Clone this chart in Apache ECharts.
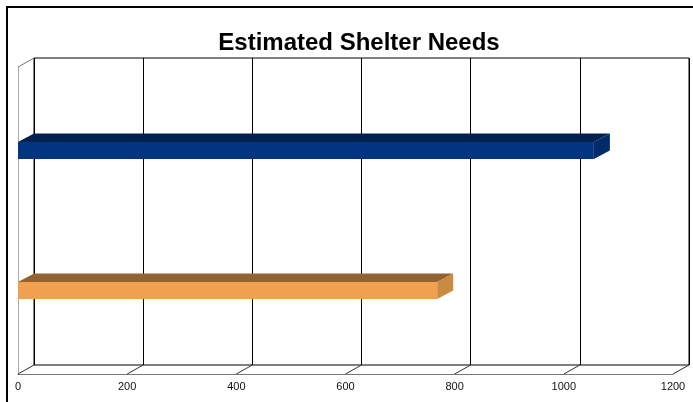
<!DOCTYPE html>
<html>
<head>
<meta charset="utf-8">
<script src="https://cdn.jsdelivr.net/npm/echarts@6/dist/echarts.min.js"></script>
<style>html,body{margin:0;padding:0;background:#fff}#c{width:693px;height:402px}</style>
</head>
<body>
<div id="c"></div>
<script>
const titleText = 'Estimated Shelter Needs';
const categories = ['Series 2', 'Series 1'];
const values = [768, 1055];
const tickValues = [0, 200, 400, 600, 800, 1000, 1200];
const frontColors = ['#F0A04F', '#01357F'];
const topColors = ['#93632F', '#00214F'];
const sideColors = ['#C98A42', '#012A68'];

const DX = 16, DY = -9;
const chart = echarts.init(document.getElementById('c'), null, {renderer: 'canvas'});

const barData = values.map((v, i) => [v, i]);

const option = {
  animation: false,
  backgroundColor: '#fff',
  title: {
    text: titleText, left: 354, textAlign: 'center', top: 26,
    textStyle: {fontFamily: 'Liberation Sans, Arial, sans-serif', fontWeight: 'bold', fontSize: 24, color: '#000'}
  },
  graphic: [{
    type: 'polyline', shape: {points: [[7, 410], [7, 7], [700, 7]]},
    style: {stroke: '#000', lineWidth: 2, fill: null}, z: 100
  }],
  grid: [
    {left: 34, top: 58, width: 655, height: 307, show: true, borderColor: '#000', borderWidth: 1, backgroundColor: 'transparent'},
    {left: 18, top: 67, width: 655, height: 307, show: false},
    {left: 18, top: 80.5, width: 655, height: 280, show: false}
  ],
  xAxis: [
    {gridIndex: 0, type: 'value', min: 0, max: 1200, interval: 200,
     axisLine: {show: false}, axisTick: {show: false}, axisLabel: {show: false},
     splitLine: {show: true, lineStyle: {color: '#000', width: 1}}},
    {gridIndex: 1, type: 'value', min: 0, max: 1200, interval: 200,
     axisLine: {show: true, lineStyle: {color: '#777', width: 1}}, axisTick: {show: false},
     axisLabel: {show: true, margin: 7, fontSize: 11, color: '#111', fontFamily: 'Liberation Sans, Arial, sans-serif',
       formatter: function (v) { return String(v); }},
     splitLine: {show: false}},
    {gridIndex: 2, type: 'value', min: 0, max: 1200, interval: 200, show: false}
  ],
  yAxis: [
    {gridIndex: 0, type: 'value', min: 0, max: 1, show: false, splitLine: {show: false}},
    {gridIndex: 1, type: 'value', min: 0, max: 1, splitLine: {show: false},
     axisLine: {show: true, lineStyle: {color: '#aaa', width: 1}}, axisTick: {show: false}, axisLabel: {show: false}},
    {gridIndex: 2, type: 'category', data: categories, show: false}
  ],
  series: [
    {
      type: 'custom', xAxisIndex: 1, yAxisIndex: 1, silent: true,
      data: tickValues.map(v => [v, 0]),
      encode: {x: 0, y: 1},
      renderItem: function (params, api) {
        const p = api.coord([api.value(0), 0]);
        const children = [{type: 'line', shape: {x1: p[0], y1: p[1], x2: p[0] + DX, y2: p[1] + DY},
          style: {stroke: '#333', lineWidth: 1}}];
        if (params.dataIndex === 0) {
          const t = api.coord([0, 1]);
          children.push({type: 'line', shape: {x1: t[0], y1: t[1], x2: t[0] + DX, y2: t[1] + DY},
            style: {stroke: '#777', lineWidth: 1}});
        }
        return {type: 'group', children: children};
      }
    },
    {
      type: 'custom', xAxisIndex: 2, yAxisIndex: 2, silent: true,
      data: barData,
      encode: {x: 0, y: 1},
      renderItem: function (params, api) {
        const v = api.value(0), c = api.value(1);
        const p0 = api.coord([0, c]);
        const p1 = api.coord([v, c]);
        const h = 17, dx = 16, dy = -8.5;
        const y0 = p0[1] - h / 2, y1 = p0[1] + h / 2;
        const x0 = p0[0], x1 = p1[0];
        const i = params.dataIndex;
        return {type: 'group', children: [
          {type: 'polygon', shape: {points: [[x0, y0], [x1, y0], [x1 + dx, y0 + dy], [x0 + dx, y0 + dy]]}, style: {fill: topColors[i]}},
          {type: 'polygon', shape: {points: [[x1, y0], [x1 + dx, y0 + dy], [x1 + dx, y1 + dy], [x1, y1]]}, style: {fill: sideColors[i]}},
          {type: 'rect', shape: {x: x0, y: y0, width: x1 - x0, height: h}, style: {fill: frontColors[i]}}
        ]};
      }
    }
  ]
};
chart.setOption(option);
</script>
</body>
</html>
